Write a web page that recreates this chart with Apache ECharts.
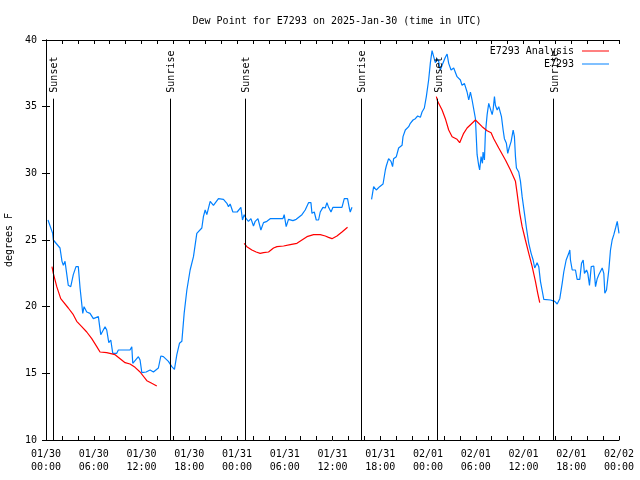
<!DOCTYPE html>
<html>
<head>
<meta charset="utf-8">
<script src="https://cdn.jsdelivr.net/npm/echarts@6/dist/echarts.min.js"></script>
<style>html,body{margin:0;padding:0;background:#fff}#c{width:640px;height:480px}</style>
</head>
<body>
<div id="c"></div>
<script>
// hours since 2025-01-30 00:00 UTC
const xTickLabels = ['01/30\n00:00','01/30\n06:00','01/30\n12:00','01/30\n18:00','01/31\n00:00','01/31\n06:00','01/31\n12:00','01/31\n18:00','02/01\n00:00','02/01\n06:00','02/01\n12:00','02/01\n18:00','02/02\n00:00'];

const obsHours = [0.25,0.84,0.92,1.76,2.01,2.18,2.39,2.48,2.80,3.11,3.43,3.77,4.06,4.28,4.62,4.78,5.12,5.53,5.95,6.58,6.88,7.42,7.63,7.89,8.14,8.39,8.89,9.09,10.56,10.78,10.90,11.61,11.82,12.04,12.58,13.08,13.50,14.12,14.43,14.75,15.38,15.81,16.14,16.44,16.77,17.07,17.36,17.70,18.11,18.53,18.95,19.58,19.78,20.00,20.21,20.63,21.04,21.67,22.30,22.73,22.93,23.14,23.48,24.02,24.49,24.69,24.90,25.15,25.44,25.75,26.07,26.29,26.63,27.00,27.33,27.76,28.17,29.77,29.93,30.18,30.47,31.03,31.44,32.16,32.57,32.99,33.29,33.42,33.71,33.96,34.25,34.46,34.80,35.09,35.30,35.51,35.81,36.06,37.19,37.48,37.89,38.11,38.23,38.45,
  null,
  40.91,41.17,41.50,41.92,42.35,42.64,42.76,43.05,43.35,43.55,43.68,44.02,44.31,44.52,44.74,44.86,45.15,45.57,45.78,46.12,46.41,46.70,47.04,47.25,47.54,47.79,48.08,48.30,48.51,48.71,48.92,49.14,49.34,49.55,49.77,50.18,50.40,50.60,50.90,51.23,51.65,52.07,52.28,52.57,52.91,53.12,53.33,53.54,53.74,53.96,54.17,54.37,54.49,54.67,54.84,54.92,55.09,55.21,55.43,55.63,55.84,56.06,56.18,56.35,56.47,56.69,56.89,57.10,57.23,57.44,57.60,57.85,58.02,58.19,58.45,58.70,58.86,58.99,59.11,59.40,59.62,59.83,60.12,60.37,60.66,60.96,61.21,61.41,61.71,61.92,62.13,62.38,62.55,63.39,63.93,64.23,64.56,64.86,65.06,65.36,65.69,65.82,65.90,66.12,66.53,66.74,67.07,67.29,67.50,67.66,67.92,68.08,68.29,68.51,68.83,69.05,69.26,69.46,69.68,69.89,70.09,70.22,70.43,70.72,70.93,71.14,71.35,71.57,71.78,71.92,72.00];
const obsDew = [26.5,25.5,25.0,24.4,23.4,23.1,23.4,23.0,21.6,21.5,22.4,23.0,23.0,21.4,19.5,20.0,19.6,19.5,19.1,19.25,17.9,18.5,18.25,17.3,17.5,16.5,16.5,16.75,16.75,17.0,15.75,16.25,16.0,15.05,15.1,15.25,15.1,15.4,16.3,16.25,15.9,15.5,15.3,16.4,17.25,17.4,19.5,21.25,22.75,23.75,25.5,25.9,26.75,27.25,26.9,27.9,27.6,28.1,28.05,27.75,27.5,27.7,27.1,27.1,27.45,26.5,26.9,26.6,26.4,26.6,26.05,26.4,26.6,25.75,26.3,26.4,26.6,26.6,26.9,26.0,26.55,26.45,26.55,26.9,27.25,27.8,27.8,27.0,27.1,26.5,26.5,27.1,27.45,27.4,27.8,27.45,27.1,27.45,27.45,28.1,28.1,27.4,27.1,27.45,
  null,
  28.05,29.0,28.75,29.0,29.2,30.25,30.55,31.1,30.9,30.5,31.1,31.25,31.9,31.75,32.1,32.75,33.25,33.5,33.75,34.0,34.1,34.3,34.2,34.6,34.9,35.75,37.0,38.3,39.2,39.2,38.3,38.6,38.4,37.75,38.1,38.7,38.95,38.25,37.75,37.9,37.25,37.0,36.6,36.75,36.1,35.5,36.1,35.5,35.6,34.1,31.4,30.6,30.25,31.25,30.75,31.6,31.0,33.0,34.4,35.25,35.1,34.4,34.75,35.75,35.1,34.75,35.0,35.1,34.25,33.25,32.6,32.25,31.5,31.9,32.4,33.25,32.75,31.25,30.4,30.1,29.4,28.25,27.0,25.9,24.75,24.0,23.5,22.9,23.3,23.0,21.9,21.1,20.55,20.5,20.4,20.2,20.6,21.75,22.6,23.5,24.0,24.25,23.5,22.75,22.75,22.05,22.05,23.25,23.5,22.5,22.75,22.5,21.6,23.0,23.05,21.5,22.1,22.4,22.25,22.9,22.5,21.0,21.25,22.75,24.25,25.0,25.4,25.9,26.4,26.3,25.5];

const anaHours = [0.75,0.92,1.35,1.85,2.80,3.43,3.86,4.49,5.12,5.75,6.38,6.79,7.63,8.68,9.31,9.94,10.56,11.19,11.82,12.67,13.29,13.92,
  null,
  24.90,25.24,25.87,26.41,26.91,27.33,27.96,28.59,29.02,29.85,30.69,31.53,32.16,32.79,33.62,34.46,35.09,35.50,35.93,36.56,37.19,37.89,
  null,
  49.05,49.21,49.77,50.18,50.60,51.03,51.65,51.98,52.48,52.91,53.96,54.80,55.43,55.93,56.26,56.89,57.73,58.36,58.99,59.20,59.53,59.83,60.24,60.66,61.09,61.50,61.79,62.04];
const anaDew = [23.0,22.5,21.5,20.6,19.9,19.4,18.9,18.5,18.1,17.6,17.0,16.6,16.55,16.4,16.1,15.8,15.7,15.45,15.1,14.45,14.25,14.05,
  null,
  24.75,24.5,24.25,24.1,24.0,24.05,24.1,24.4,24.5,24.55,24.65,24.75,25.0,25.25,25.4,25.4,25.3,25.2,25.1,25.3,25.6,25.95,
  null,
  35.75,35.4,34.75,34.1,33.25,32.75,32.55,32.3,33.0,33.4,34.0,33.5,33.2,33.05,32.6,31.9,31.0,30.25,29.4,28.5,27.0,26.0,25.0,24.0,23.0,21.9,21.0,20.3];

const sunHours = [0.92,15.63,25.03,39.6,49.2,63.8];
const sunNames = ['Sunset','Sunrise','Sunset','Sunrise','Sunset','Sunrise'];
const sunLineTop = 35.6;

const FONT = 'DejaVu Sans Mono';
function pairs(hs, vs){ return hs.map((h,i)=> vs[i]==null ? ['-','-'] : [h, vs[i]]); }

const chart = echarts.init(document.getElementById('c'), null, {renderer:'canvas'});
const axisCommon = {
  axisLine:{show:true, lineStyle:{color:'#000', width:1}},
  axisTick:{show:true, inside:true, length:4, lineStyle:{color:'#000'}},
  splitLine:{show:false}
};
const lineIcon = 'path://M0,0L27,0L27,1L0,1Z';
const option = {
  animation:false,
  backgroundColor:'#fff',
  title:{text:'Dew Point for E7293 on 2025-Jan-30 (time in UTC)', left:332, top:11, textAlign:'center',
    textStyle:{fontFamily:FONT, fontSize:10, fontWeight:'normal', color:'#000'}},
  legend:{orient:'vertical', right:26, top:41, align:'right', itemWidth:27, itemHeight:12, itemGap:3,
    textStyle:{fontFamily:FONT, fontSize:10, color:'#000', padding:[0,3,0,0]},
    data:[{name:'E7293 Analysis', icon:lineIcon},{name:'E7293', icon:lineIcon}]},
  grid:{left:46, right:21, top:40, bottom:40, containLabel:false, outerBoundsMode:'none'},
  xAxis:[
    Object.assign({type:'value', min:0, max:72, interval:2, position:'bottom',
      axisLabel:{fontFamily:FONT, fontSize:10, color:'#000', lineHeight:13, margin:8,
        formatter:v=> (v%6===0 ? xTickLabels[v/6] : '')}}, axisCommon),
    Object.assign({type:'value', min:0, max:72, interval:2, position:'top', axisLabel:{show:false}}, axisCommon)
  ],
  yAxis:[
    Object.assign({type:'value', min:10, max:40, interval:5, position:'left', name:'degrees F',
      nameLocation:'middle', nameGap:30, nameTextStyle:{fontFamily:FONT, fontSize:10, color:'#000'},
      axisLabel:{fontFamily:FONT, fontSize:10, color:'#000', margin:9}}, axisCommon),
    Object.assign({type:'value', min:10, max:40, interval:5, position:'right', axisLabel:{show:false}}, axisCommon)
  ],
  series:[
    {name:'E7293 Analysis', type:'line', symbol:'none', xAxisIndex:0, yAxisIndex:0,
      lineStyle:{color:'#ff0000', width:1.2}, itemStyle:{color:'#ff0000'},
      data:pairs(anaHours, anaDew), connectNulls:false, z:3,
      markLine:{silent:true, symbol:'none', label:{show:false}, lineStyle:{color:'#000', width:1, type:'solid'},
        data: sunHours.map(h=>[{coord:[h,10]},{coord:[h,sunLineTop]}])}},
    {name:'E7293', type:'line', symbol:'none', xAxisIndex:0, yAxisIndex:0,
      lineStyle:{color:'#0080ff', width:1.2}, itemStyle:{color:'#0080ff'},
      data:pairs(obsHours, obsDew), connectNulls:false, z:2}
  ]
};
chart.setOption(option);
const g = sunHours.map((h,i)=>{
  const p = chart.convertToPixel({xAxisIndex:0, yAxisIndex:0}, [h, sunLineTop]);
  return {type:'text', x:Math.round(p[0])+1, y:p[1]-6, rotation:Math.PI/2, z:10,
    style:{text:sunNames[i], font:'10px "'+FONT+'"', fill:'#000', align:'left', verticalAlign:'middle'}};
});
chart.setOption({graphic:g});
</script>
</body>
</html>
